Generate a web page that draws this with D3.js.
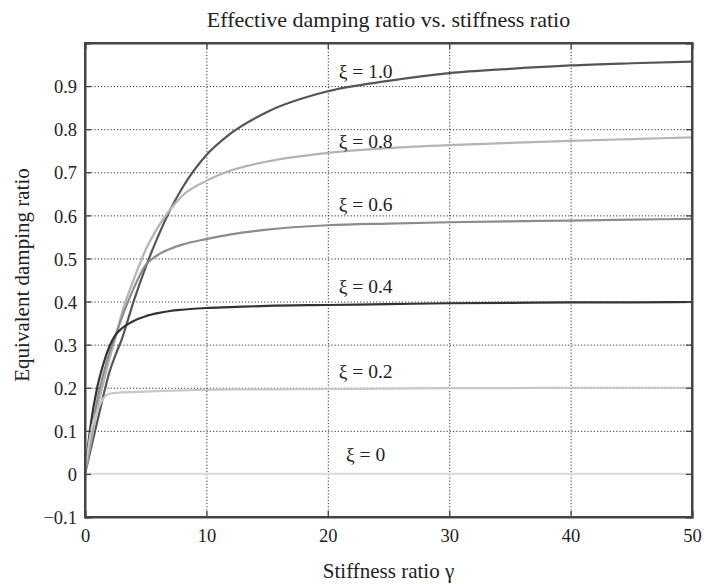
<!DOCTYPE html>
<html>
<head>
<meta charset="utf-8">
<script src="https://cdn.jsdelivr.net/npm/d3@7"></script>
<style>
  html, body { margin: 0; padding: 0; background: #fff; }
  svg { display: block; }
  text { font-family: "Liberation Serif", "DejaVu Serif", serif; fill: #222; }
</style>
</head>
<body>
<svg id="chart" width="704" height="584"></svg>
<script>
// ---- data ----
const gamma = [0, 0.5, 1, 1.5, 2, 2.5, 3, 4, 5, 6, 7, 8, 10, 12, 15, 20, 25, 30, 35, 40, 45, 50];
const xi10 = [0, 0.06, 0.12, 0.18, 0.235, 0.275, 0.31, 0.40, 0.48, 0.55, 0.612, 0.663, 0.74, 0.79, 0.84, 0.888, 0.912, 0.93, 0.94, 0.948, 0.953, 0.957];
const xi08 = [0, 0.075, 0.15, 0.21, 0.265, 0.315, 0.37, 0.45, 0.52, 0.572, 0.613, 0.645, 0.68, 0.704, 0.725, 0.745, 0.756, 0.763, 0.768, 0.773, 0.777, 0.781];
const xi06 = [0, 0.09, 0.17, 0.23, 0.28, 0.32, 0.36, 0.43, 0.485, 0.508, 0.522, 0.532, 0.545, 0.556, 0.567, 0.577, 0.581, 0.584, 0.586, 0.588, 0.59, 0.592];
const xi04 = [0, 0.12, 0.2, 0.254, 0.295, 0.322, 0.337, 0.355, 0.366, 0.373, 0.378, 0.381, 0.385, 0.387, 0.39, 0.392, 0.394, 0.396, 0.397, 0.398, 0.398, 0.399];
const xi02 = [0, 0.1, 0.145, 0.175, 0.186, 0.188, 0.189, 0.19, 0.191, 0.192, 0.193, 0.194, 0.195, 0.196, 0.196, 0.197, 0.198, 0.199, 0.199, 0.2, 0.2, 0.2];
const xi00 = [0, 0, 0, 0, 0, 0, 0, 0, 0, 0, 0, 0, 0, 0, 0, 0, 0, 0, 0, 0, 0, 0];
const seriesNames = ["ξ = 1.0", "ξ = 0.8", "ξ = 0.6", "ξ = 0.4", "ξ = 0.2", "ξ = 0"];
const seriesValues = [xi10, xi08, xi06, xi04, xi02, xi00];
const labelValues = [0.919, 0.756, 0.61, 0.42, 0.223, 0.03];
const xTicks = [0, 10, 20, 30, 40, 50];
const yTicks = [-0.1, 0, 0.1, 0.2, 0.3, 0.4, 0.5, 0.6, 0.7, 0.8, 0.9];
const titleText = "Effective damping ratio vs. stiffness ratio";
const xLabel = "Stiffness ratio γ";
const yLabel = "Equivalent damping ratio";

// ---- styles ----
const colors = ["#555555", "#b4b4b4", "#8c8c8c", "#333333", "#c8c8c8", "#dcdcdc"];
const margin = { left: 85, top: 43, right: 12, bottom: 67 };
const W = 704, H = 584;
const iw = W - margin.left - margin.right;
const ih = H - margin.top - margin.bottom;

const svg = d3.select("#chart");
const g = svg.append("g").attr("transform", `translate(${margin.left},${margin.top})`);

const x = d3.scaleLinear().domain([0, 50]).range([0, iw]);
const y = d3.scaleLinear().domain([-0.1, 1.0]).range([ih, 0]);

// grid
const gridX = g.append("g").attr("transform", `translate(0,${ih})`)
  .call(d3.axisBottom(x).tickValues(xTicks.slice(1, -1)).tickSize(-ih).tickFormat(""));
const gridY = g.append("g")
  .call(d3.axisLeft(y).tickValues(yTicks.slice(1)).tickSize(-iw).tickFormat(""));
[gridX, gridY].forEach(a => {
  a.select(".domain").remove();
  a.selectAll("line").attr("stroke", "#333").attr("stroke-width", 1).attr("stroke-dasharray", "1.2,2");
});

// curves
const line = d3.line().x((d, i) => x(gamma[i])).y(d => y(d)).curve(d3.curveMonotoneX);
seriesValues.forEach((vals, k) => {
  g.append("path").datum(vals)
    .attr("fill", "none")
    .attr("stroke", colors[k])
    .attr("stroke-width", 2.2)
    .attr("d", line);
});

// series labels
seriesNames.forEach((name, k) => {
  g.append("text")
    .attr("x", x(k === 5 ? 21.5 : 20.9))
    .attr("y", y(labelValues[k]))
    .attr("font-size", 19.5)
    .text(name);
});

// axes with inside ticks
const fmt = d => d === 0 ? "0" : d3.format(".1f")(d).replace("-", "−");
const axL = g.append("g").call(d3.axisLeft(y).tickValues(yTicks.concat([1.0])).tickSize(-6).tickPadding(8).tickFormat(d => d > 0.95 ? "" : fmt(d)));
const axR = g.append("g").attr("transform", `translate(${iw},0)`).call(d3.axisRight(y).tickValues(yTicks.concat([1.0])).tickSize(-6).tickFormat(""));
const axB = g.append("g").attr("transform", `translate(0,${ih})`).call(d3.axisBottom(x).tickValues(xTicks).tickSize(-6).tickPadding(10).tickFormat(d3.format("d")));
const axT = g.append("g").call(d3.axisTop(x).tickValues(xTicks).tickSize(-6).tickFormat(""));
[axL, axR, axB, axT].forEach(a => {
  a.select(".domain").attr("stroke", "#444").attr("stroke-width", 2);
  a.selectAll(".tick line").attr("stroke", "#444").attr("stroke-width", 1.3);
  a.selectAll(".tick text").attr("font-size", 18.5).attr("font-family", "Liberation Serif, serif").attr("fill", "#222");
});
axL.selectAll(".tick text").attr("dy", "0.36em");
axB.selectAll(".tick text").attr("dy", "0.8em");

// frame
g.append("rect").attr("width", iw).attr("height", ih).attr("fill", "none").attr("stroke", "#444").attr("stroke-width", 2);

// titles
svg.append("text").attr("x", margin.left + iw / 2).attr("y", 27).attr("text-anchor", "middle").attr("font-size", 22).text(titleText);
svg.append("text").attr("x", margin.left + iw / 2).attr("y", 578).attr("text-anchor", "middle").attr("font-size", 21).text(xLabel);
svg.append("text").attr("transform", `translate(29,275) rotate(-90)`).attr("text-anchor", "middle").attr("font-size", 21).text(yLabel);
</script>
</body>
</html>
